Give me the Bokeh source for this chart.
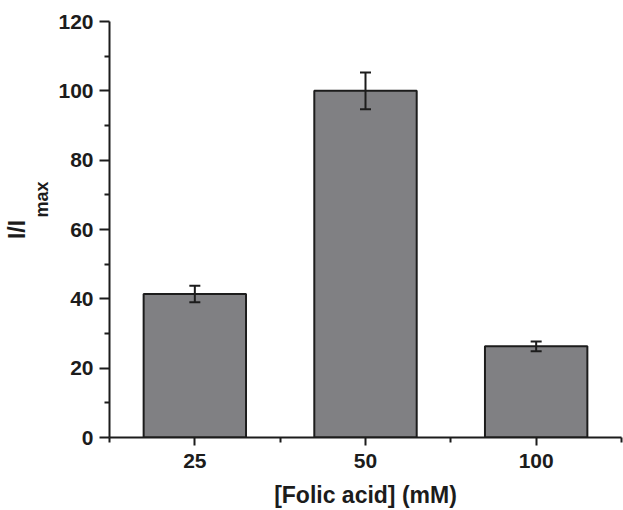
from bokeh.plotting import figure
from bokeh.models import (FixedTicker, Range1d, Whisker, ColumnDataSource, TeeHead,
                          LinearAxis)
from bokeh.embed import file_html
from bokeh.resources import INLINE

# ---- data ----
categories = ["25", "50", "100"]
values = [41.4, 100.0, 26.3]
errors = [2.4, 5.3, 1.4]
y_ticks = [0, 20, 40, 60, 80, 100, 120]
y_minor = [10, 30, 50, 70, 90, 110]
x_title = "[Folic acid] (mM)"
y_title_main = "I/I"
y_title_sub = "max"

positions = list(range(len(categories)))
x_minor = [i - 0.5 for i in positions] + [positions[-1] + 0.5]

src = ColumnDataSource(dict(
    x=positions, top=values,
    upper=[v + e for v, e in zip(values, errors)],
    lower=[v - e for v, e in zip(values, errors)],
))

INK = "#1c1c1c"
FONT = "Liberation Sans"

p = figure(width=623, height=510, x_range=Range1d(-0.5, len(categories) - 0.5),
           y_range=Range1d(0, 120), output_backend="svg", toolbar_location=None,
           min_border_left=109, min_border_right=2, min_border_top=21, min_border_bottom=73)
p.outline_line_color = None
p.grid.visible = False
p.background_fill_color = "white"
p.border_fill_color = "white"

p.vbar(x="x", top="top", width=0.6, bottom=0, source=src,
       fill_color="#808083", line_color=INK, line_width=2)

w = Whisker(base="x", upper="upper", lower="lower", source=src, level="overlay",
            line_color=INK, line_width=2,
            upper_head=TeeHead(size=11, line_color=INK, line_width=2),
            lower_head=TeeHead(size=11, line_color=INK, line_width=2))
p.add_layout(w)

for ax in (p.xaxis[0], p.yaxis[0]):
    ax.axis_line_width = 2
    ax.axis_line_color = INK
    ax.major_tick_line_width = 2
    ax.major_tick_line_color = INK
    ax.minor_tick_line_width = 2
    ax.minor_tick_line_color = INK
    ax.major_tick_in = 0
    ax.minor_tick_in = 0
    ax.minor_tick_out = 5
    ax.major_label_text_font = FONT
    ax.major_label_text_font_style = "bold"
    ax.major_label_text_font_size = "21px"
    ax.major_label_text_color = INK
    ax.axis_label_text_font = FONT
    ax.axis_label_text_font_style = "bold"
    ax.axis_label_text_color = INK

p.xaxis.ticker = FixedTicker(ticks=positions, minor_ticks=x_minor)
p.xaxis.major_label_overrides = {i: c for i, c in zip(positions, categories)}
p.xaxis.major_tick_out = 8
p.xaxis.major_label_standoff = 8
p.xaxis.axis_label = x_title
p.xaxis.axis_label_text_font_size = "23px"
p.xaxis.axis_label_standoff = 11

p.yaxis.ticker = FixedTicker(ticks=y_ticks, minor_ticks=y_minor)
p.yaxis.major_tick_out = 10
p.yaxis.major_label_standoff = 6
# subscript "max", shifted up with leading non-breaking spaces
p.yaxis.axis_label = "\u00a0" * 12 + y_title_sub
p.yaxis.axis_label_text_font_size = "18px"
p.yaxis.axis_label_standoff = 3

# outer (label-only) axis carrying "I/I"
outer = LinearAxis(axis_label=y_title_main, ticker=FixedTicker(ticks=[]),
                   axis_line_color=None, major_tick_out=0, major_tick_in=0,
                   minor_tick_out=0, minor_tick_in=0, major_label_text_font_size="0px",
                   major_label_standoff=0, axis_label_standoff=0,
                   axis_label_text_font=FONT, axis_label_text_font_style="bold",
                   axis_label_text_font_size="23px", axis_label_text_color=INK)
p.add_layout(outer, "left")

open("out.html", "w").write(file_html(p, INLINE))
